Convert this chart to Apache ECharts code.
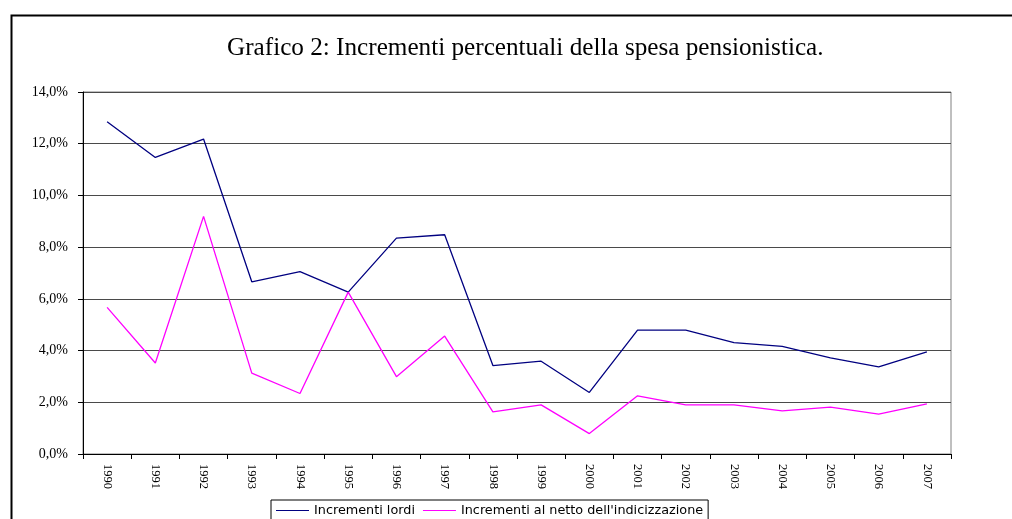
<!DOCTYPE html>
<html>
<head>
<meta charset="utf-8">
<script src="https://cdn.jsdelivr.net/npm/echarts@6/dist/echarts.min.js"></script>
<style>html,body{margin:0;padding:0;background:#fff;}#c{width:1012px;height:519px;}</style>
</head>
<body>
<div id="c"></div>
<script>
var titleText = 'Grafico 2: Incrementi percentuali della spesa pensionistica.';
var years = ['1990','1991','1992','1993','1994','1995','1996','1997','1998','1999','2000','2001','2002','2003','2004','2005','2006','2007'];
var lordiName = 'Incrementi lordi';
var nettoName = "Incrementi al netto dell'indicizzazione";
var lordi = [12.85, 11.47, 12.18, 6.66, 7.05, 6.26, 8.35, 8.48, 3.42, 3.59, 2.38, 4.79, 4.79, 4.31, 4.16, 3.72, 3.37, 3.95];
var netto = [5.67, 3.52, 9.19, 3.13, 2.34, 6.26, 2.99, 4.56, 1.63, 1.90, 0.79, 2.25, 1.90, 1.90, 1.67, 1.81, 1.54, 1.94];
var yMin = 0, yMax = 14, yStep = 2;

var chart = echarts.init(document.getElementById('c'), null, {renderer: 'canvas'});
chart.setOption({
  backgroundColor: '#fff',
  animation: false,
  graphic: [{
    type: 'rect', left: 9, top: 13, z: 0,
    shape: {width: 1010, height: 520},
    style: {fill: 'none', stroke: '#000', lineWidth: 2}
  }],
  title: {
    text: titleText, left: 222, top: 31,
    textStyle: {fontFamily: 'Liberation Serif', fontSize: 25.2, fontWeight: 'normal', color: '#000'}
  },
  legend: {
    left: 271, top: 500,
    data: [{name: lordiName, icon: 'rect'}, {name: nettoName, icon: 'rect'}],
    itemWidth: 33, itemHeight: 1.2, itemGap: 8,
    borderColor: '#000', borderWidth: 1, padding: [4, 5, 4, 5],
    textStyle: {fontFamily: 'DejaVu Sans', fontSize: 12.8, color: '#000'}
  },
  grid: {left: 83, right: 61, top: 92, bottom: 65, show: true, borderColor: '#808080', borderWidth: 1},
  xAxis: {
    type: 'category', data: years, boundaryGap: true,
    axisLine: {lineStyle: {color: '#000', width: 1}},
    axisTick: {show: true, length: 5, inside: false, alignWithLabel: false, lineStyle: {color: '#000'}},
    axisLabel: {rotate: -90, margin: 10, fontFamily: 'Liberation Serif', fontSize: 12.5, color: '#000', interval: 0}
  },
  yAxis: {
    type: 'value', min: yMin, max: yMax, interval: yStep,
    axisLine: {show: true, lineStyle: {color: '#000', width: 1}},
    axisTick: {show: true, length: 5, lineStyle: {color: '#000'}},
    splitLine: {show: true, lineStyle: {color: '#4a4a4a', width: 1}},
    axisLabel: {margin: 15, fontFamily: 'Liberation Serif', fontSize: 14, color: '#000',
      formatter: function (v) { return v.toFixed(1).replace('.', ',') + '%'; }}
  },
  series: [
    {name: lordiName, type: 'line', data: lordi, symbol: 'none', showSymbol: false,
     lineStyle: {color: '#000080', width: 1.3}, itemStyle: {color: '#000080'}},
    {name: nettoName, type: 'line', data: netto, symbol: 'none', showSymbol: false,
     lineStyle: {color: '#FF00FF', width: 1.3}, itemStyle: {color: '#FF00FF'}}
  ]
});
</script>
</body>
</html>
